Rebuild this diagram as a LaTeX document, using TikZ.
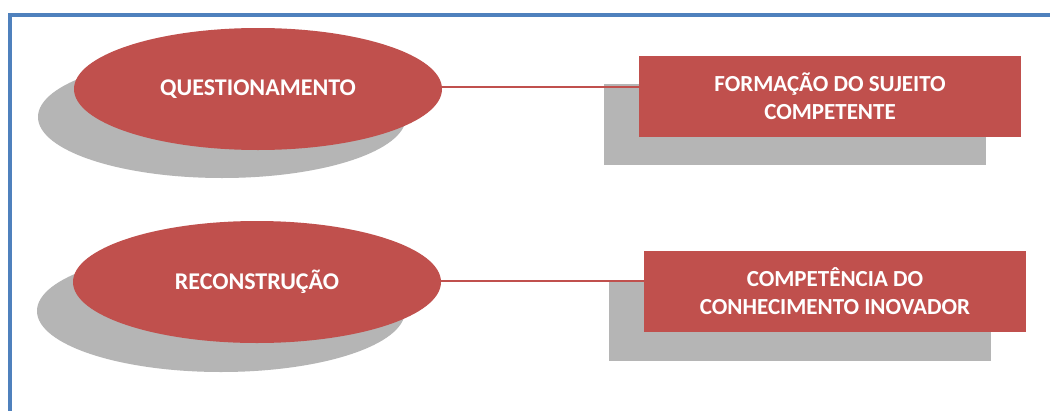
\documentclass[tikz,border=0pt]{standalone}
\usepackage{fontspec}
\setmainfont{Carlito}
\usetikzlibrary{shapes.geometric}
\definecolor{accred}{RGB}{192,80,77}
\definecolor{shadowgrey}{RGB}{181,181,181}
\definecolor{framblue}{RGB}{79,129,189}
\tikzset{
  oval/.style={ellipse, fill=accred, draw=none, inner sep=0pt,
    minimum width=368pt, minimum height=122pt,
    text=white, font=\fontsize{24}{28}\selectfont\bfseries},
  ovalshadow/.style={ellipse, fill=shadowgrey, draw=none, inner sep=0pt,
    minimum width=368pt, minimum height=122pt},
  box/.style={rectangle, fill=accred, draw=none, inner sep=0pt,
    minimum width=382pt, minimum height=81pt, align=center,
    text=white, font=\fontsize{23}{28}\selectfont\bfseries},
  boxshadow/.style={rectangle, fill=shadowgrey, draw=none, inner sep=0pt,
    minimum width=382pt, minimum height=81pt},
  link/.style={draw=accred, line width=1.3pt}
}
\begin{document}
\begin{tikzpicture}[x=1pt,y=-1pt]
  \useasboundingbox (0,0) rectangle (1050,410);
  \fill[white] (0,0) rectangle (1050,410);
  % outer frame (runs past the right and bottom edges)
  \draw[framblue, line width=3.2pt] (10,420) -- (10,15) -- (1060,15);

  % shadows
  \node[ovalshadow] (s1) at (222,117) {};
  \node[ovalshadow] (s2) at (221,311) {};
  \node[boxshadow]  (t1) at (795,124) {};
  \node[boxshadow]  (t2) at (799.5,320) {};

  % boxes and connectors
  \node[box] (r1) at (830,96.5) {FORMAÇÃO DO SUJEITO\\COMPETENTE};
  \node[box] (r2) at (835,291.5) {COMPETÊNCIA DO\\CONHECIMENTO INOVADOR};
  \coordinate (c1) at (300,87);
  \coordinate (c2) at (300,281);
  \draw[link] (c1) -- (c1 -| r1.west);
  \draw[link] (c2) -- (c2 -| r2.west);

  % ovals
  \node[oval] (e1) at (258,89) {QUESTIONAMENTO};
  \node[oval] (e2) at (257,282) {RECONSTRUÇÃO};
\end{tikzpicture}
\end{document}
